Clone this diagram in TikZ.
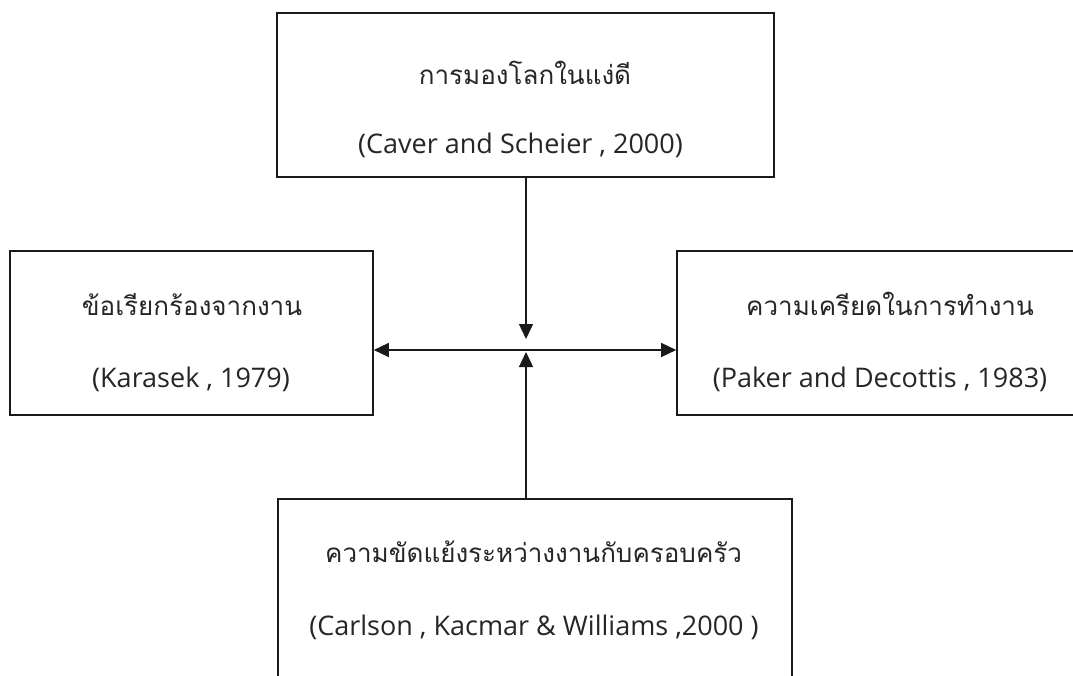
\documentclass[tikz,border=0pt]{standalone}
\usepackage{fontspec}
\setmainfont{Open Sans}
\newfontfamily\thaifont[Script=Thai]{Loma}
\usetikzlibrary{arrows.meta}
\definecolor{ink}{HTML}{1A1A1A}
\definecolor{txt}{HTML}{262626}
\begin{document}
\begin{tikzpicture}[x=1pt,y=-1pt,
  box/.style={draw=ink, line width=1.6pt, rectangle, inner sep=0pt},
  thai/.style={anchor=base, text=txt, font=\thaifont\fontsize{26}{30}\selectfont, inner sep=0pt},
  latin/.style={anchor=base, text=txt, font=\fontsize{27}{32}\selectfont, inner sep=0pt},
  conn/.style={draw=ink, line width=1.4pt},
  tip/.style={-{Triangle[length=15pt,width=14pt]}}]
\clip (0,0) rectangle (1073,676);
\fill[white] (0,0) rectangle (1073,676);
% boxes
\node[box, minimum width=497pt, minimum height=164pt] (top) at (525.5,95) {};
\node[box, minimum width=363pt, minimum height=164pt] (left) at (191.5,333) {};
\node[box, minimum width=406pt, minimum height=164pt] (right) at (880,333) {};
\node[box, minimum width=514pt, minimum height=220pt] (bottom) at (535,609) {};
% texts
\node[thai] (topth) at (525,85) {การมองโลกในแง่ดี};
\node[latin] (topla) at (520.5,154) {(Caver and Scheier , 2000)};
\node[thai] (leftth) at (192,315) {ข้อเรียกร้องจากงาน};
\node[latin] (leftla) at (191,387) {(Karasek , 1979)};
\node[thai] (rightth) at (890,315) {ความเครียดในการทำงาน};
\node[latin] (rightla) at (880,387) {(Paker and Decottis , 1983)};
\node[thai] (botth) at (533.5,562) {ความขัดแย้งระหว่างงานกับครอบครัว};
\node[latin] (botla) at (534,635) {(Carlson , Kacmar \& Williams ,2000 )};
% connectors
\coordinate (down) at (526,339);
\coordinate (up) at (526,352);
\draw[conn, tip] (top.south -| down) -- (down);
\draw[conn, tip] (bottom.north -| up) -- (up);
\draw[conn, {Triangle[length=15pt,width=14pt]}-{Triangle[length=15pt,width=14pt]}] (left.east |- 0,350) -- (right.west |- 0,350);
\end{tikzpicture}
\end{document}
